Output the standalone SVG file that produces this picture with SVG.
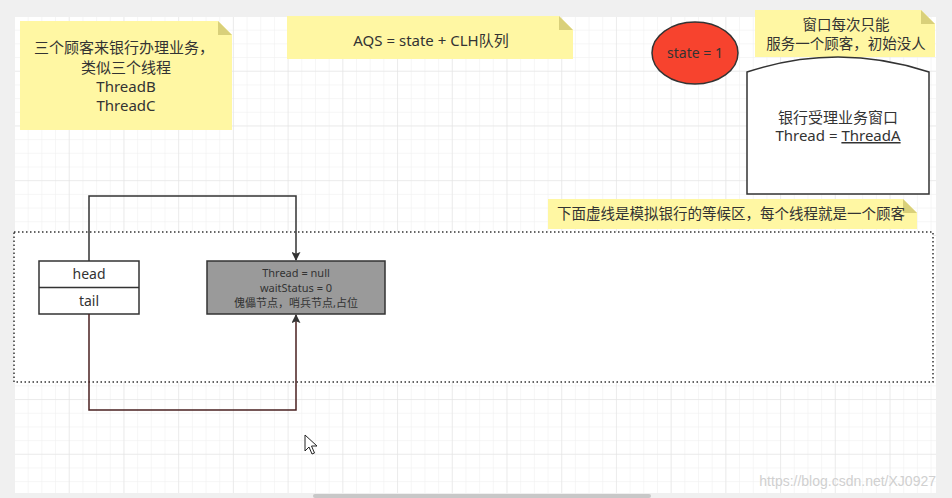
<svg xmlns="http://www.w3.org/2000/svg" width="952" height="498" viewBox="0 0 952 498">
<defs>
<pattern id="minor" x="15" y="17" width="13.68" height="13.68" patternUnits="userSpaceOnUse">
<path d="M13.68 0V13.68H0" fill="none" stroke="#eeeeee" stroke-width="1"/>
</pattern>
<pattern id="major" x="15" y="17" width="54.72" height="54.72" patternUnits="userSpaceOnUse">
<path d="M54.72 0V54.72H0" fill="none" stroke="#e2e2e2" stroke-width="1"/>
</pattern>
<marker id="arr" viewBox="0 0 10 10" refX="9" refY="5" markerWidth="9" markerHeight="9" orient="auto" markerUnits="userSpaceOnUse">
<path d="M0 0L10 5L0 10L2 5Z" fill="#333333"/>
</marker>
<marker id="arr2" viewBox="0 0 10 10" refX="9" refY="5" markerWidth="9" markerHeight="9" orient="auto" markerUnits="userSpaceOnUse">
<path d="M0 0L10 5L0 10L2 5Z" fill="#333333"/>
</marker>
</defs>
<style>
text{font-family:"Noto Sans","Noto Sans CJK SC",sans-serif;fill:#333333}
.note{fill:#fff7a3}
.fold{fill:#d9d07a}
.t14{font-size:14px}
.t15{font-size:15px}
.t145{font-size:14.5px}
.t11{font-size:11px}
.box{fill:#ffffff;stroke:#333333;stroke-width:1.5}
</style>
<rect x="0" y="0" width="952" height="498" fill="#f0f0f0"/>
<rect x="15" y="17" width="921" height="476" fill="#ffffff"/>
<rect x="15" y="17" width="921" height="476" fill="url(#minor)"/>
<rect x="15" y="17" width="921" height="476" fill="url(#major)"/>
<rect x="313" y="494" width="338" height="4" rx="2" fill="#c8c8c8"/>

<g id="waiting-area">
<rect x="14" y="232" width="919" height="150" fill="#ffffff" stroke="#333333" stroke-width="1.5" stroke-dasharray="1.5 2.5"/>
</g>

<g id="note-customers">
<path class="note" d="M20 21H218L232 35V130H20Z"/>
<path class="fold" d="M218 21L232 35H218Z"/>
<text class="t15" text-anchor="middle" x="124" y="53">三个顾客来银行办理业务，</text>
<text class="t15" text-anchor="middle" x="126" y="73">类似三个线程</text>
<text class="t15" text-anchor="middle" x="126" y="92">ThreadB</text>
<text class="t15" text-anchor="middle" x="126" y="111">ThreadC</text>
</g>

<g id="note-aqs">
<path class="note" d="M287 16H559L573 30V59H287Z"/>
<path class="fold" d="M559 16L573 30H559Z"/>
<text class="t15" text-anchor="middle" x="431" y="46">AQS = state + CLH队列</text>
</g>

<g id="state">
<ellipse cx="695" cy="53" rx="43" ry="31" fill="#f7432e" stroke="#333333" stroke-width="1.5"/>
<text class="t14" text-anchor="middle" x="695" y="58">state = 1</text>
</g>

<g id="note-window">
<path class="note" d="M755 10H921L935 24V57H755Z"/>
<path class="fold" d="M921 10L935 24H921Z"/>
<text class="t145" text-anchor="middle" x="846" y="30">窗口每次只能</text>
<text class="t145" text-anchor="middle" x="846" y="49">服务一个顾客，初始没人</text>
</g>

<g id="window">
<path class="box" d="M747 72Q838 42 929 72V194H747Z"/>
<text class="t15" text-anchor="middle" x="838" y="123">银行受理业务窗口</text>
<text class="t15" text-anchor="middle" x="838" y="141">Thread = <tspan text-decoration="underline">ThreadA</tspan></text>
</g>

<g id="note-waiting">
<path class="note" d="M548 199H903L917 213V229H548Z"/>
<path class="fold" d="M903 199L917 213H903Z"/>
<text class="t145" x="557" y="219">下面虚线是模拟银行的等候区，每个线程就是一个顾客</text>
</g>

<g id="head-tail">
<rect class="box" x="39" y="261" width="100" height="53"/>
<line x1="39" y1="287.5" x2="139" y2="287.5" stroke="#333333" stroke-width="1.5"/>
<text class="t14" text-anchor="middle" x="89" y="279">head</text>
<text class="t14" text-anchor="middle" x="89" y="306">tail</text>
</g>

<g id="sentinel">
<rect x="207" y="261" width="178" height="53" fill="#9a9a9a" stroke="#333333" stroke-width="1.5"/>
<text class="t11" text-anchor="middle" x="296" y="277">Thread = null</text>
<text class="t11" text-anchor="middle" x="296" y="292">waitStatus = 0</text>
<text class="t11" text-anchor="middle" x="296" y="307">傀儡节点，哨兵节点,占位</text>
</g>

<g id="connectors" fill="none" stroke-width="1.5">
<path d="M89 261V196H296V260" stroke="#333333" marker-end="url(#arr)"/>
<path d="M89 314V410H296V315" stroke="#4a2020" marker-end="url(#arr2)"/>
</g>

<g id="cursor">
<path d="M305 435V451L309 447L312 454L314.5 453L311.5 446H317Z" fill="#ffffff" stroke="#222222" stroke-width="1"/>
</g>

<text x="936" y="486" text-anchor="end" style="font-family:'Liberation Sans',Arial,sans-serif;font-size:14px;fill:#d0d0d0">https://blog.csdn.net/XJ0927</text>
</svg>
